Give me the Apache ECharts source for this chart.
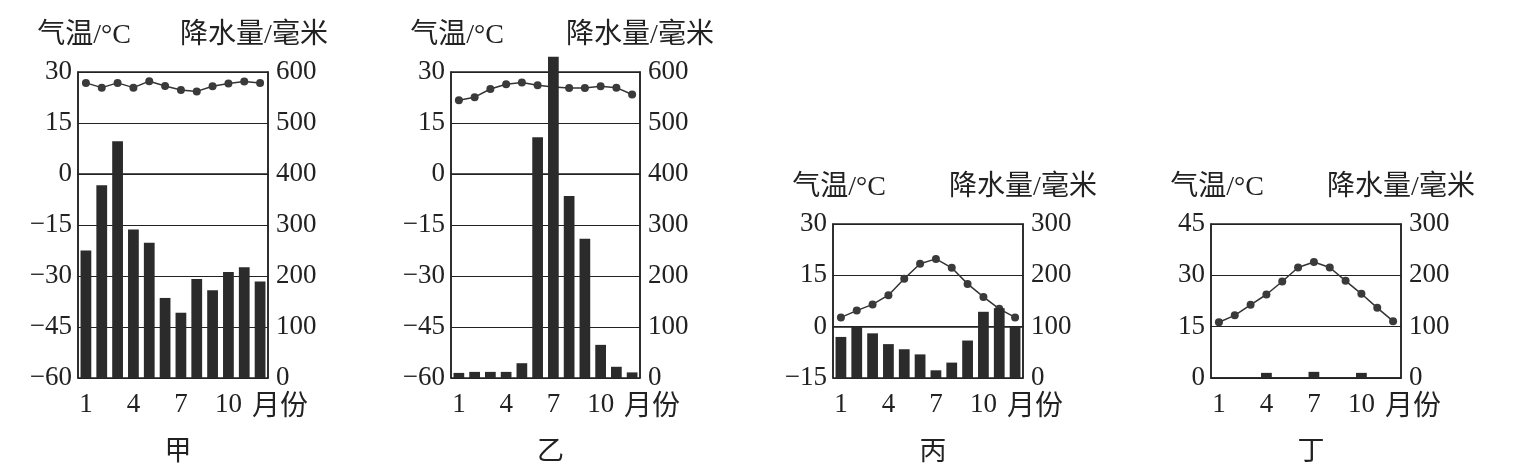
<!DOCTYPE html>
<html>
<head>
<meta charset="utf-8">
<script src="https://cdn.jsdelivr.net/npm/echarts@6/dist/echarts.min.js"></script>
<style>
html,body{margin:0;padding:0;background:#fff;}
#chart{width:1517px;height:474px;}
</style>
</head>
<body>
<div id="chart"></div>
<script>
// ---- data ----
const months = ['1','2','3','4','5','6','7','8','9','10','11','12'];
const panelNames = ['甲','乙','丙','丁'];

const tempJia = [26.8, 25.4, 26.8, 25.4, 27.3, 25.9, 24.7, 24.3, 25.8, 26.6, 27.2, 26.8];
const rainJia = [250, 378, 464, 291, 265, 157, 128, 194, 172, 208, 217, 189];

const tempYi = [21.7, 22.6, 25.0, 26.4, 26.9, 26.1, 25.6, 25.3, 25.3, 25.8, 25.4, 23.4];
const rainYi = [10, 12, 12, 12, 29, 472, 630, 357, 273, 65, 22, 11];

const tempBing = [2.7, 4.7, 6.5, 9.2, 14.0, 18.4, 19.8, 17.2, 12.5, 8.7, 5.2, 2.7];
const rainBing = [80, 100, 87, 66, 56, 46, 15, 30, 73, 129, 136, 100];

const tempDing = [16.3, 18.3, 21.4, 24.4, 28.2, 32.3, 33.9, 32.3, 28.4, 24.6, 20.5, 16.6];
const rainDing = [0, 0, 0, 10, 0, 0, 12, 0, 0, 10, 0, 0];

// axis ranges [min, max, interval]
const tempAxes = [[-60, 30, 15], [-60, 30, 15], [-15, 30, 15], [0, 45, 15]];
const rainAxes = [[0, 600, 100], [0, 600, 100], [0, 300, 100], [0, 300, 100]];

const temps = [tempJia, tempYi, tempBing, tempDing];
const rains = [rainJia, rainYi, rainBing, rainDing];

// ---- layout / style ----
const grids = [
  {left: 78,   top: 72,  width: 190, height: 306},
  {left: 451,  top: 72,  width: 189, height: 306},
  {left: 833,  top: 224, width: 190, height: 154},
  {left: 1211, top: 224, width: 190, height: 154}
];
const rightNamePad = [[0, 28, 0, 0], [0, 0, 0, 0], [0, 0, 0, 0], [0, 0, 0, 0]];

const INK = '#222';
const FONT = '"Liberation Serif", "Noto Sans CJK SC", serif';
const FS = 27;     // numbers
const FSC = 28;    // CJK text
const fmt = v => String(v).replace('-', '\u2212');

const option = {
  backgroundColor: '#fff',
  animation: false,
  textStyle: {fontFamily: FONT, color: INK},
  title: grids.map((g, i) => ({
    text: panelNames[i],
    left: g.left + g.width / 2,
    top: 434,
    textAlign: 'center',
    textStyle: {fontFamily: FONT, fontSize: FS, fontWeight: 'normal', color: INK}
  })),
  graphic: grids.map(g => ({
    type: 'text',
    left: g.left + g.width - 16,
    top: g.top + g.height + 16,
    silent: true,
    style: {text: '月份', font: FSC + 'px ' + FONT, fill: INK}
  })),
  grid: grids.map(g => Object.assign({show: true, borderColor: INK, borderWidth: 1.5, containLabel: false}, g)),
  xAxis: grids.map((g, i) => ({
    type: 'category',
    gridIndex: i,
    data: months,
    boundaryGap: true,
    axisLine: {show: true, lineStyle: {color: INK, width: 1.5}},
    axisTick: {show: false},
    axisLabel: {interval: 2, margin: 13, fontFamily: FONT, fontSize: FS, color: INK},
    splitLine: {show: false}
  })),
  yAxis: [],
  series: []
};

grids.forEach((g, i) => {
  const ta = tempAxes[i], ra = rainAxes[i];
  option.yAxis.push({
    type: 'value',
    gridIndex: i,
    position: 'left',
    min: ta[0], max: ta[1], interval: ta[2],
    name: '气温/°C',
    nameLocation: 'end',
    nameGap: 22,
    nameTextStyle: {fontFamily: FONT, fontSize: FSC, color: INK, padding: [0, 0, 0, 12]},
    axisLine: {show: true, lineStyle: {color: INK, width: 1.5}},
    axisTick: {show: false},
    axisLabel: {margin: 6, fontFamily: FONT, fontSize: FS, color: INK, formatter: fmt},
    splitLine: {show: true, lineStyle: {color: INK, width: 1.2}}
  });
  option.yAxis.push({
    type: 'value',
    gridIndex: i,
    position: 'right',
    min: ra[0], max: ra[1], interval: ra[2],
    name: '降水量/毫米',
    nameLocation: 'end',
    nameGap: 22,
    nameTextStyle: {fontFamily: FONT, fontSize: FSC, color: INK, padding: rightNamePad[i]},
    axisLine: {show: true, lineStyle: {color: INK, width: 1.5}},
    axisTick: {show: false},
    axisLabel: {margin: 8, fontFamily: FONT, fontSize: FS, color: INK, formatter: fmt},
    splitLine: {show: false}
  });
  option.series.push({
    type: 'bar',
    xAxisIndex: i,
    yAxisIndex: i * 2 + 1,
    data: rains[i],
    barWidth: '68%',
    clip: false,
    z: 3,
    itemStyle: {color: '#2b2b2b'}
  });
  option.series.push({
    type: 'line',
    xAxisIndex: i,
    yAxisIndex: i * 2,
    data: temps[i],
    z: 2,
    symbol: 'circle',
    symbolSize: 8,
    showSymbol: true,
    lineStyle: {color: '#333', width: 1.5},
    itemStyle: {color: '#3a3a3a'}
  });
});

const chart = echarts.init(document.getElementById('chart'), null, {renderer: 'canvas'});
chart.setOption(option);
</script>
</body>
</html>
